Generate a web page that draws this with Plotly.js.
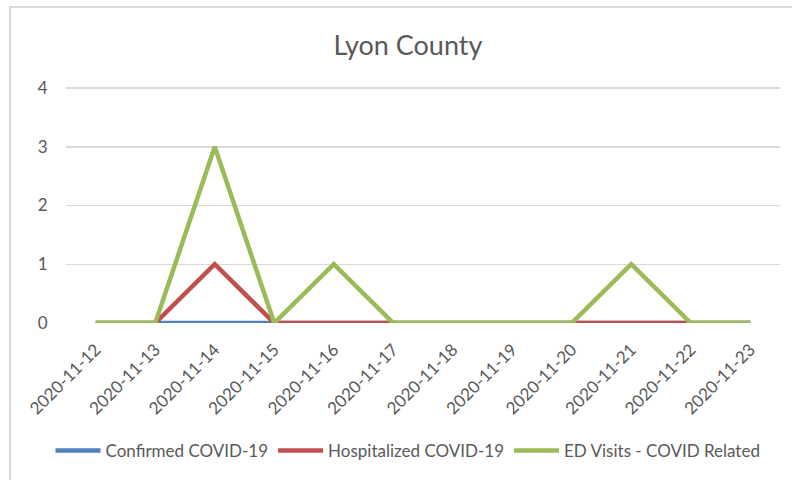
<!DOCTYPE html>
<html>
<head>
<meta charset="utf-8">
<script src="https://cdn.plot.ly/plotly-3.0.1.min.js"></script>
<style>
html,body{margin:0;padding:0;background:#fff;}
#wrap{position:relative;width:792px;height:480px;overflow:hidden;}
#chart{position:absolute;left:0;top:0;width:792px;height:480px;}
#border{position:absolute;left:9px;top:6px;width:800px;height:500px;border:2px solid #d9d9d9;box-sizing:border-box;pointer-events:none;}
</style>
</head>
<body>
<div id="wrap"><div id="chart"></div><div id="border"></div></div>
<script>
var dates = ["2020-11-12","2020-11-13","2020-11-14","2020-11-15","2020-11-16","2020-11-17","2020-11-18","2020-11-19","2020-11-20","2020-11-21","2020-11-22","2020-11-23"];
var confirmed = [0,0,0,0,0,0,0,0,0,0,0,0];
var hospitalized = [0,0,1,0,0,0,0,0,0,0,0,0];
var edVisits = [0,0,3,0,1,0,0,0,0,1,0,0];
var seriesNames = ["Confirmed COVID-19","Hospitalized COVID-19","ED Visits - COVID Related"];
var seriesColors = ["#4F81BD","#C0504D","#9BBB59"];
var yTicks = [0,1,2,3,4];

var font = "Lato, 'Open Sans', sans-serif";
var traces = [confirmed, hospitalized, edVisits].map(function(v,i){
  return {x: dates, y: v, type:'scatter', mode:'lines', name: seriesNames[i],
    line:{color: seriesColors[i], width:4.5}, hoverinfo:'x+y+name'};
});
var layout = {
  width:792, height:480,
  margin:{l:66, r:12, t:86, b:157, pad:0, autoexpand:false},
  paper_bgcolor:'#fff', plot_bgcolor:'#fff',
  title:{text:'Lyon County', font:{family:font, size:27, color:'#595959'},
    x:408/792, xref:'container', xanchor:'center', y:1-46/480, yref:'container', yanchor:'middle', automargin:false},
  font:{family:font, color:'#595959'},
  xaxis:{type:'category', tickangle:-45, tickfont:{size:17, color:'#595959'}, automargin:false,
    showgrid:false, showline:false, zeroline:false, ticks:'outside', ticklen:9, tickcolor:'rgba(0,0,0,0)',
    range:[-0.5, dates.length-0.5], fixedrange:true},
  yaxis:{range:[0,4.035], tickvals:yTicks, ticktext:yTicks.map(String), tickfont:{size:17, color:'#595959'}, automargin:false,
    showgrid:true, gridcolor:'#d9d9d9', gridwidth:1.5, zeroline:false, showline:false,
    ticks:'outside', ticklen:14, tickcolor:'rgba(0,0,0,0)', fixedrange:true},
  showlegend:true,
  legend:{orientation:'h', x:(408-66)/714, xanchor:'center', y:-0.54, yanchor:'middle',
    font:{size:17, color:'#595959', family:font}, itemwidth:45, tracegroupgap:0, traceorder:'normal'}
};
Plotly.newPlot('chart', traces, layout, {displayModeBar:false, staticPlot:true});
</script>
</body>
</html>
